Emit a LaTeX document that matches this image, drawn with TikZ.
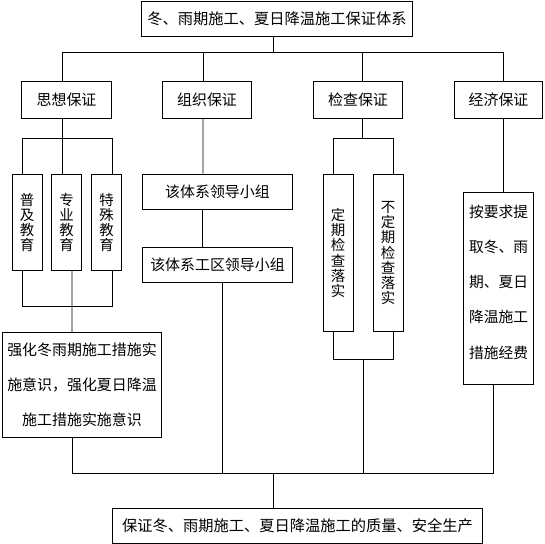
\documentclass[tikz,border=0pt]{standalone}
\usepackage{fontspec}
\setmainfont{Noto Sans CJK SC}
\begin{document}
\begin{tikzpicture}[x=1bp,y=-1bp,
  box/.style={draw,line width=0.8bp,inner sep=0pt,align=center,font=\fontsize{15}{15}\selectfont},
  vbox/.style={box,minimum width=30,font=\fontsize{14.5}{15.2}\selectfont},
  txt/.style={inner sep=0pt,align=center},
  ln/.style={line width=0.8bp}]
\useasboundingbox (0,0) rectangle (545,544);
% level 1
\node[box,minimum width=272,minimum height=35,font=\fontsize{15.3}{15}\selectfont] (top) at (277,18.5) {冬、雨期施工、夏日降温施工保证体系};
% level 2
\node[box,minimum width=90,minimum height=37] (sx) at (66.5,99.5) {思想保证};
\node[box,minimum width=90,minimum height=37] (zz) at (207,99.5) {组织保证};
\node[box,minimum width=90,minimum height=37] (jc) at (358,99.5) {检查保证};
\node[box,minimum width=89,minimum height=37] (jj) at (498.5,99.5) {经济保证};
% 思想 branch
\node[vbox,minimum height=97] (pj) at (27,222.5) {普\\及\\教\\育};
\node[vbox,minimum height=97] (zy) at (66.5,222.5) {专\\业\\教\\育};
\node[vbox,minimum height=97] (ts) at (106.5,222.5) {特\\殊\\教\\育};
\node[box,minimum width=160,minimum height=106,font=\fontsize{15}{35}\selectfont] (qh) at (82,385) {强化冬雨期施工措施实\\施意识，强化夏日降温\\施工措施实施意识};
% 组织 branch
\node[box,minimum width=151,minimum height=35] (zl1) at (217.5,191.5) {该体系领导小组};
\node[box,minimum width=151,minimum height=35] (zl2) at (217.5,264.5) {该体系工区领导小组};
% 检查 branch
\node[vbox,minimum height=158] (dq) at (338,253) {定\\期\\检\\查\\落\\实};
\node[vbox,minimum height=158] (bdq) at (388,253) {不\\定\\期\\检\\查\\落\\实};
% 经济 branch
\node[box,minimum width=71,minimum height=193] (ay) at (498.5,288.5) {};
\node[txt,font=\fontsize{14.8}{35.25}\selectfont] (ayt) at (498.5,282.2) {按要求提\\取冬、雨\\期、夏日\\降温施工\\措施经费};
% bottom
\node[box,minimum width=371,minimum height=35,font=\fontsize{15.3}{15}\selectfont] (bot) at (297.5,525.5) {保证冬、雨期施工、夏日降温施工的质量、安全生产};

% top bus
\draw[ln] ([xshift=-4]top.south) -- ++(0,17);
\draw[ln] ([xshift=-4.5]sx.north) -- ++(0,-28) -| ([xshift=4.5]jj.north);
\draw[ln] ([xshift=-4]zz.north) -- ++(0,-28);
\draw[ln] ([xshift=4.5]jc.north) -- ++(0,-28);
% 思想
\draw[ln] ([xshift=-4.5]sx.south) -- ([xshift=-4.5]zy.north);
\draw[ln] ([xshift=-5]pj.north) -- ++(0,-35) -| ([xshift=5.5]ts.north);
\draw[ln] ([xshift=-5]pj.south) -- ++(0,35) -| ([xshift=5.5]ts.south);
\draw[ln] ([xshift=5.5]zy.south) -- ([xshift=-10]qh.north);
% 组织
\draw[ln] ([xshift=-4]zz.south) -- ([xshift=-14.5]zl1.north);
\draw[ln] ([xshift=-15.5]zl1.south) -- ([xshift=-15.5]zl2.north);
% 检查
\draw[ln] ([xshift=4.5]jc.south) -- ++(0,21);
\draw[ln] ([xshift=-5]dq.north) -- ++(0,-35) -| ([xshift=5]bdq.north);
\draw[ln] ([xshift=-5]dq.south) -- ++(0,27) -| ([xshift=5]bdq.south);
% 经济
\draw[ln] ([xshift=4.5]jj.south) -- ([xshift=4.5]ay.north);
% bottom bus
\draw[ln] ([xshift=-10]qh.south) -- ++(0,35) -| ([xshift=-5.5]ay.south);
\draw[ln] ([xshift=4.5]zl2.south) -- ++(0,191);
\draw[ln] ([xshift=25,yshift=-27]dq.south) -- ++(0,114);
\draw[ln] ([xshift=-24.5]bot.north) -- ++(0,-35);
\end{tikzpicture}
\end{document}
